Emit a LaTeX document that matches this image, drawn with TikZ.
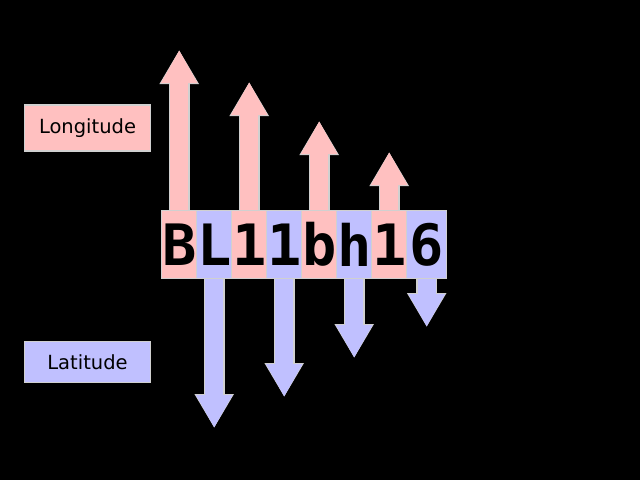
\documentclass[tikz,border=0pt]{standalone}
\usepackage{fontspec}
\newfontfamily\codefont{DejaVu Sans Mono}
\newfontfamily\labelfont{DejaVu Sans}
\usetikzlibrary{arrows.meta,positioning,backgrounds}

\definecolor{lonpink}{HTML}{FFC0C0}
\definecolor{latblue}{HTML}{C0C0FF}
\definecolor{halo}{HTML}{D0D0D0}

\begin{document}
\begin{tikzpicture}[
    x=1pt, y=-1pt,
    node distance=0pt,
    letter/.style={rectangle, draw=halo, line width=1pt, outer sep=0pt, minimum width=35pt, minimum height=68pt, inner sep=0pt, text=black, font=\codefont\bfseries\fontsize{57}{57}\selectfont},
    lonbox/.style={letter, fill=lonpink},
    latbox/.style={letter, fill=latblue},
    legend/.style={rectangle, draw=halo, line width=1.5pt, minimum width=126pt, inner sep=0pt, text=black, font=\labelfont\fontsize{19.5}{19.5}\selectfont},
    bigarrow/.style={line width=18pt, -{Triangle[width=34pt,length=33pt]},
        preaction={draw=halo, line width=21pt, -{Triangle[width=37pt,length=34pt]}}},
    uparrow/.style={bigarrow, draw=lonpink},
    downarrow/.style={bigarrow, draw=latblue}
]
    % Nodes
    \node[lonbox] (c1) at (179.2,244.5) {B};
    \node[latbox, right=of c1] (c2) {L};
    \node[lonbox, right=of c2] (c3) {1};
    \node[latbox, right=of c3] (c4) {1};
    \node[lonbox, right=of c4] (c5) {b};
    \node[latbox, right=of c5] (c6) {h};
    \node[lonbox, right=of c6] (c7) {1};
    \node[latbox, right=of c7, minimum width=40pt] (c8) {6};

    % Legend
    \node[legend, fill=lonpink, minimum height=46pt] (lon) at (87.5,128) {Longitude};
    \node[legend, fill=latblue, minimum height=41pt] (lat) at (87.5,362) {Latitude};

    % Arrow ends
    \coordinate (u1) at (c1.north |- 0,50);
    \coordinate (u2) at (c3.north |- 0,82);
    \coordinate (u3) at (c5.north |- 0,121);
    \coordinate (u4) at (c7.north |- 0,152);
    \coordinate (d1) at (c2.south |- 0,428);
    \coordinate (d2) at (c4.south |- 0,397);
    \coordinate (d3) at (c6.south |- 0,358);
    \coordinate (d4) at (c8.south |- 0,327);

    \begin{scope}[on background layer]
        % Background
        \fill[black] (0,0) rectangle (640,480);
        % Arrows
        \draw[uparrow] (c1.north) -- (u1);
        \draw[uparrow] (c3.north) -- (u2);
        \draw[uparrow] (c5.north) -- (u3);
        \draw[uparrow] (c7.north) -- (u4);
        \draw[downarrow] (c2.south) -- (d1);
        \draw[downarrow] (c4.south) -- (d2);
        \draw[downarrow] (c6.south) -- (d3);
        \draw[downarrow] (c8.south) -- (d4);
    \end{scope}
    \useasboundingbox (0,0) rectangle (640,480);
\end{tikzpicture}
\end{document}
